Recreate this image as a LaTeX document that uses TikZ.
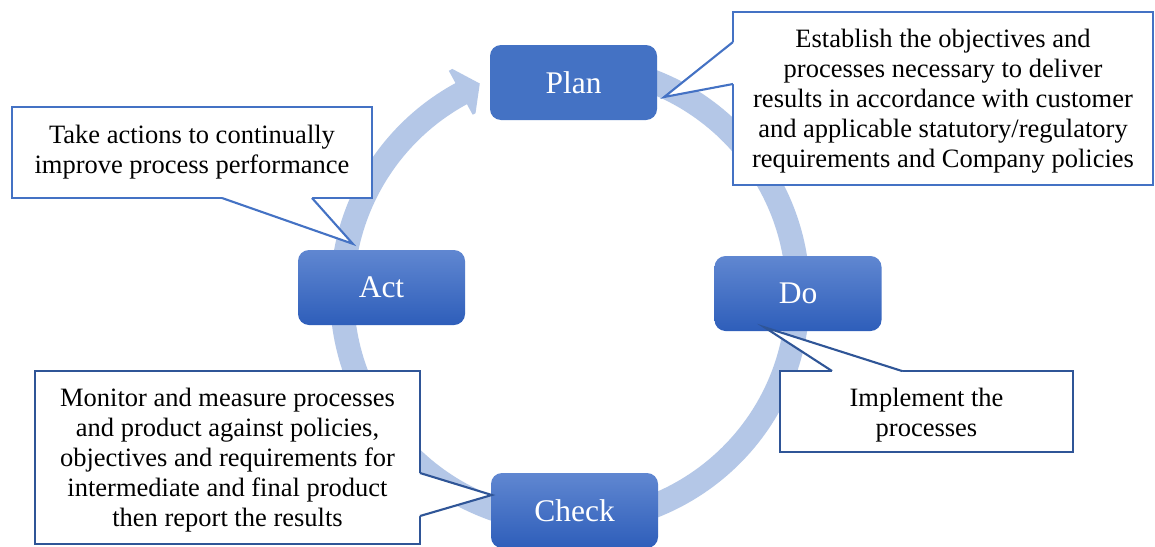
\documentclass[tikz,border=0pt]{standalone}
\usepackage{fontspec}
\setmainfont{Liberation Serif}
\usetikzlibrary{calc}
\definecolor{pdcaBlue}{HTML}{4472C4}
\definecolor{ringBlue}{HTML}{B4C7E7}
\definecolor{darkLine}{HTML}{2F5597}
\definecolor{gradTop}{RGB}{96,135,209}
\definecolor{gradBot}{RGB}{46,94,186}
\begin{document}
\begin{tikzpicture}[x=1pt,y=-1pt,
  stage/.style={rectangle, rounded corners=11pt, minimum width=167pt, minimum height=75pt, inner sep=0pt, text=white, font=\fontsize{31.5}{36}\selectfont},
  gradstage/.style={stage, top color=gradTop, bottom color=gradBot},
  flatstage/.style={stage, fill=pdcaBlue},
  calloutbox/.style={rectangle, draw=#1, fill=white, line width=2.1pt, inner sep=0pt},
  callouttext/.style={align=center, inner sep=0pt, text=black, font=\fontsize{26.5}{30}\selectfont},
  pointerline/.style={draw=#1, line width=2.1pt, line join=miter},
]
\clip (0,0) rectangle (1155,546);
\fill[white] (0,0) rectangle (1155,546);

% ring with arrow head
\coordinate (ctr) at (570,294);
\draw[ringBlue, line width=24pt] ($(ctr)+(80:228pt)$) arc[start angle=80, end angle=-242.3, radius=228pt];
\fill[ringBlue] ($(ctr)+(117.6:254pt)$) -- ($(ctr)+(113.2:229pt)$) -- ($(ctr)+(117.6:204pt)$) -- ($(ctr)+(118.5:204pt)$) -- ($(ctr)+(118.5:254pt)$) -- cycle;

% stage boxes
\node[flatstage] (plan) at (573.5,82.5) {Plan};
\node[gradstage] (do) at (798,293.5) {Do};
\node[gradstage] (check) at (574.5,510.5) {Check};
\node[gradstage] (act) at (381.5,287.5) {Act};

% Plan callout
\node[calloutbox=pdcaBlue, minimum width=420pt, minimum height=173pt] (pcall) at (943,98.5) {};
\coordinate (pa) at (733,42);
\coordinate (pb) at (733,84);
\coordinate (ptip) at ($(plan.east)+(7,14.5)$);
\fill[white] ($(pa)+(3,0)$) -- (pa) -- (ptip) -- (pb) -- ($(pb)+(3,0)$) -- cycle;
\draw[pointerline=pdcaBlue] (pa) -- (ptip) -- (pb);
\node[callouttext] (ptext) at ($(pcall.center)+(0,3)$) {Establish the objectives and\\processes necessary to deliver\\results in accordance with customer\\and applicable statutory/regulatory\\requirements and Company policies};

% Act callout
\node[calloutbox=pdcaBlue, minimum width=360pt, minimum height=91pt] (acall) at (192,152.5) {};
\coordinate (aa) at (222,198);
\coordinate (ab) at (312,198);
\coordinate (atip) at ($(act.north west)+(55,-6)$);
\fill[white] ($(aa)+(0,-3)$) -- (aa) -- (atip) -- (ab) -- ($(ab)+(0,-3)$) -- cycle;
\draw[pointerline=pdcaBlue] (aa) -- (atip) -- (ab);
\node[callouttext] (atext) at ($(acall.center)+(0,0)$) {Take actions to continually\\improve process performance};

% Do callout
\node[calloutbox=darkLine, minimum width=293pt, minimum height=81pt] (dcall) at (926.5,411.5) {};
\coordinate (da) at (832,371);
\coordinate (db) at (902,371);
\coordinate (dtip) at ($(do.south west)+(50,-4)$);
\fill[white] ($(da)+(0,3)$) -- (da) -- (dtip) -- (db) -- ($(db)+(0,3)$) -- cycle;
\draw[pointerline=darkLine] (da) -- (dtip) -- (db);
\node[callouttext] (dtext) at ($(dcall.center)+(0,4)$) {Implement the\\processes};

% Check callout
\node[calloutbox=darkLine, minimum width=385pt, minimum height=173pt] (ccall) at (227.5,457.5) {};
\coordinate (ca) at (420,473);
\coordinate (cb) at (420,516);
\coordinate (ctip) at ($(check.west)+(1,-15.5)$);
\fill[white] ($(ca)+(-3,0)$) -- (ca) -- (ctip) -- (cb) -- ($(cb)+(-3,0)$) -- cycle;
\draw[pointerline=darkLine] (ca) -- (ctip) -- (cb);
\node[callouttext] (ctext) at ($(ccall.center)+(0,3)$) {Monitor and measure processes\\and product against policies,\\objectives and requirements for\\intermediate and final product\\then report the results};
\end{tikzpicture}
\end{document}
